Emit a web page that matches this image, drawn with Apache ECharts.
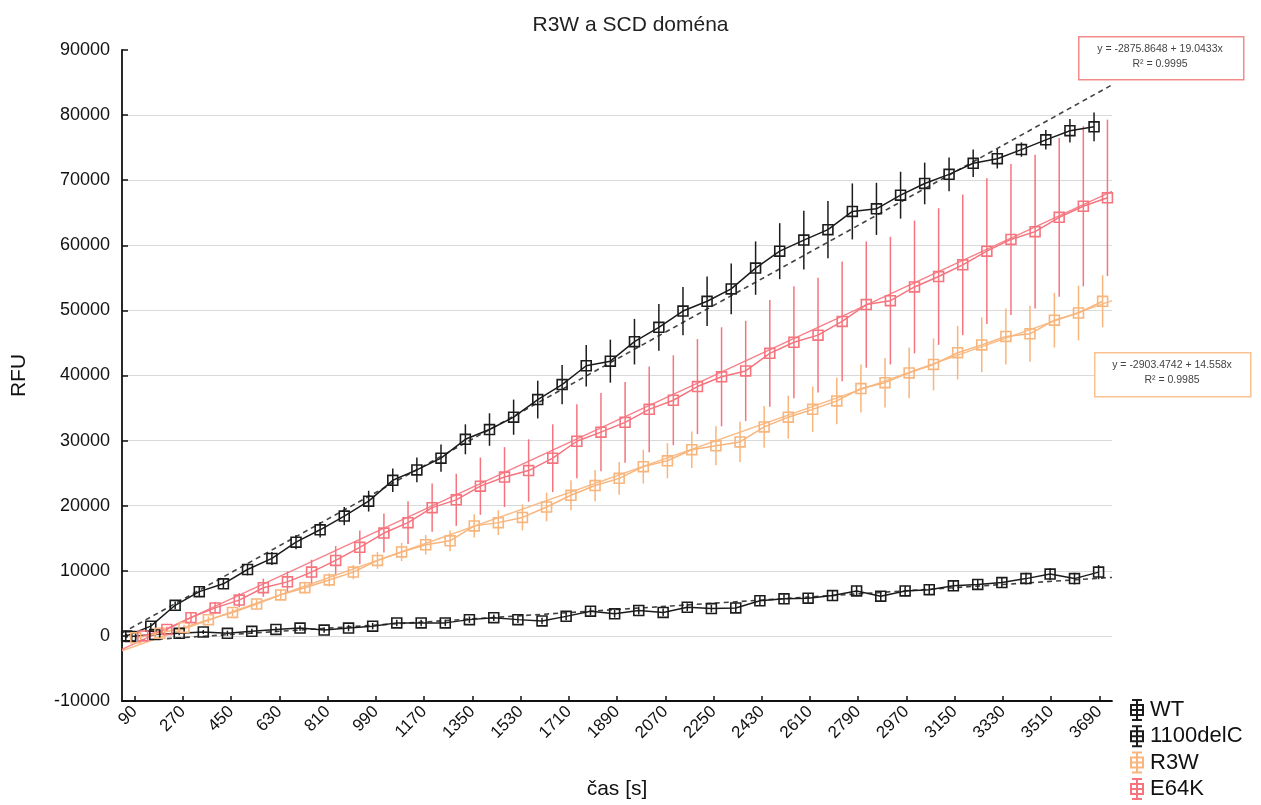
<!DOCTYPE html>
<html>
<head>
<meta charset="utf-8">
<script src="https://cdn.jsdelivr.net/npm/echarts@6/dist/echarts.min.js"></script>
<style>
  html, body { margin: 0; padding: 0; background: #fff; }
  #chart { width: 1261px; height: 805px; }
</style>
</head>
<body>
<div id="chart"></div>
<script>
// Read times (s) of each sample group
const timeWT = [60,150,241,331,421,511,602,692,782,872,963,1053,1143,1233,1324,1414,1504,1594,1685,1775,1865,1955,2046,2136,2226,2316,2407,2497,2587,2677,2768,2858,2948,3038,3129,3219,3309,3399,3490,3580,3670];
const time1100 = [75,165,256,346,436,527,617,707,797,888,978,1068,1159,1249,1339,1430,1520,1610,1700,1791,1881,1971,2062,2152,2242,2333,2423,2513,2603,2694,2784,2874,2965,3055,3145,3236,3326,3416,3506,3597,3687];
const timeR3W = [94,184,274,365,455,545,635,725,816,906,996,1086,1176,1267,1357,1447,1537,1627,1718,1808,1898,1988,2078,2169,2259,2349,2439,2529,2620,2710,2800,2890,2980,3071,3161,3251,3341,3431,3522,3612,3702];
const timeE64K = [120,210,300,390,480,570,660,750,840,930,1020,1110,1200,1290,1380,1470,1560,1650,1740,1830,1920,2010,2100,2190,2280,2370,2460,2550,2640,2730,2820,2910,3000,3090,3180,3270,3360,3450,3540,3630,3720];

// Mean fluorescence (RFU)
const rfuWT = [0,1500,4700,6800,8000,10200,11900,14400,16300,18400,20700,23900,25500,27300,30200,31700,33600,36300,38600,41500,42200,45200,47400,49900,51400,53300,56500,59100,60800,62400,65200,65600,67700,69500,70900,72600,73300,74700,76200,77600,78200];
const rfu1100 = [-100,200,400,600,400,700,1000,1200,900,1200,1500,2000,2000,2000,2500,2800,2500,2300,3000,3800,3400,3900,3600,4400,4200,4300,5400,5700,5800,6200,6900,6100,6900,7100,7700,7900,8200,8800,9500,8800,9800];
const rfuR3W = [-300,400,1300,2500,3600,4900,6300,7400,8600,9800,11600,12900,14000,14600,16900,17400,18200,19800,21600,23100,24200,26000,26900,28600,29200,29800,32100,33600,34800,36100,38000,38900,40400,41700,43500,44700,46000,46400,48500,49600,51400];
const rfuE64K = [0,1000,2800,4300,5500,7400,8300,9800,11600,13600,15800,17400,19700,20900,23000,24400,25400,27300,29900,31300,32800,34800,36200,38300,39800,40700,43400,45100,46200,48300,50900,51500,53600,55200,57000,59100,60900,62100,64300,66000,67300];

// Error bar half-lengths (RFU)
const errWT = [300,500,600,700,800,900,1000,1100,1200,1400,1600,1800,1900,2100,2300,2500,2700,2900,3000,3200,3300,3500,3600,3700,3800,3900,4100,4300,4500,4400,4300,4000,3600,3200,2600,2100,1500,1100,1500,1800,2200];
const err1100 = [300,300,300,300,400,400,400,400,400,500,500,500,500,500,500,500,500,500,600,600,600,600,600,600,600,700,700,700,700,700,800,800,800,800,800,800,800,900,900,900,1100];
const errR3W = [200,300,400,500,600,700,800,900,1000,1100,1300,1400,1500,1600,1800,1900,2000,2200,2300,2400,2500,2600,2700,2800,3000,3100,3200,3300,3500,3600,3700,3800,3900,4000,4100,4200,4300,4300,4200,4200,4000];
const errE64K = [200,400,700,900,1100,1400,1600,1900,2200,2600,3000,3300,3700,4000,4400,4600,4800,5200,5700,6000,6200,6600,6900,7300,7600,7700,8200,8600,8800,9200,9700,9800,10200,10500,10800,11200,11600,11800,12200,12300,12000];

// Linear fits reported for R3W and E64K
const fitE64K = { a: -2875.8648, b: 19.0433, r2: '0.9995' };
const fitR3W = { a: -2903.4742, b: 14.558, r2: '0.9985' };

const xTicks = [90,270,450,630,810,990,1170,1350,1530,1710,1890,2070,2250,2430,2610,2790,2970,3150,3330,3510,3690];
const X_MIN = 42.6, X_MAX = 3737;

const FONT = '"Liberation Sans", Arial, sans-serif';
const C_BLACK = '#1c1c1c';
const C_R3W = '#f8b57c';
const C_E64K = '#f5747e';

function zip(xs, ys) { return xs.map((x, i) => [x, ys[i]]); }
function zip3(xs, ys, es) { return xs.map((x, i) => [x, ys[i], es[i]]); }

// ordinary least squares line over the plotted range
function lsqLine(xs, ys) {
  const n = xs.length;
  let sx = 0, sy = 0, sxx = 0, sxy = 0;
  for (let i = 0; i < n; i++) { sx += xs[i]; sy += ys[i]; sxx += xs[i] * xs[i]; sxy += xs[i] * ys[i]; }
  const b = (n * sxy - sx * sy) / (n * sxx - sx * sx);
  const a = (sy - b * sx) / n;
  return [[X_MIN, a + b * X_MIN], [X_MAX, a + b * X_MAX]];
}
function eqLine(f) { return [[X_MIN, f.a + f.b * X_MIN], [X_MAX, f.a + f.b * X_MAX]]; }

// hollow square marker (outer square minus inner square)
const SQUARE = 'path://M0 0H10V10H0Z M1.4 1.4V8.6H8.6V1.4Z';
// legend glyph: capped error bar over a hollow square with a crossing line
const LEGEND_ICON = 'path://M3 0H13V2H3Z M3 20H13V22H3Z M7 0H9V22H7Z M1 5H15V17H1Z M3 7V15H13V7Z M1 10H15V12H1Z';

function errorSeries(id, data, color) {
  return {
    id: id,
    type: 'custom',
    data: data,
    z: 2,
    silent: true,
    itemStyle: { color: color },
    renderItem: function (params, api) {
      const x = api.value(0), y = api.value(1), e = api.value(2);
      const p1 = api.coord([x, y - e]);
      const p2 = api.coord([x, y + e]);
      return {
        type: 'line',
        shape: { x1: p1[0], y1: p1[1], x2: p2[0], y2: p2[1] },
        style: { stroke: color, lineWidth: 1.5 }
      };
    }
  };
}

function dataSeries(name, data, color) {
  return {
    name: name,
    type: 'line',
    data: data,
    z: 4,
    symbol: SQUARE,
    symbolSize: 11.5,
    itemStyle: { color: color },
    lineStyle: { color: color, width: 1.5 },
    emphasis: { disabled: true }
  };
}

function fitSeries(id, data, color, dashed) {
  return {
    id: id,
    type: 'line',
    data: data,
    z: 3,
    symbol: 'none',
    silent: true,
    lineStyle: { color: color, width: dashed ? 1.6 : 1.5, type: dashed ? [5, 4] : 'solid', opacity: dashed ? 0.85 : 0.9 },
    emphasis: { disabled: true }
  };
}

const gridColors = [];
for (let i = 0; i < 10; i++) gridColors.push('#d9d9d9');
gridColors.push('rgba(0,0,0,0)');

const chart = echarts.init(document.getElementById('chart'), null, { renderer: 'canvas' });

chart.setOption({
  backgroundColor: '#fff',
  animation: false,
  title: {
    text: 'R3W a SCD doména',
    left: 'center',
    top: 10,
    textStyle: { fontFamily: FONT, fontSize: 21, fontWeight: 'normal', color: '#222' }
  },
  grid: { left: 122, right: 149, top: 50, bottom: 90 },
  legend: {
    orient: 'vertical',
    left: 1130,
    top: 699,
    padding: 0,
    itemWidth: 16,
    itemHeight: 22,
    itemGap: 4.3,
    selectedMode: false,
    textStyle: { fontFamily: FONT, fontSize: 22, color: '#111' },
    data: [
      { name: 'WT', icon: LEGEND_ICON },
      { name: '1100delC', icon: LEGEND_ICON },
      { name: 'R3W', icon: LEGEND_ICON },
      { name: 'E64K', icon: LEGEND_ICON }
    ]
  },
  xAxis: {
    type: 'value',
    min: X_MIN,
    max: X_MAX,
    name: 'čas [s]',
    nameLocation: 'middle',
    nameGap: 78,
    nameTextStyle: { fontFamily: FONT, fontSize: 21, color: '#111' },
    axisLine: { onZero: false, lineStyle: { color: '#111', width: 1.8 } },
    axisTick: { inside: true, length: 5, customValues: xTicks, lineStyle: { color: '#111', width: 1.5 } },
    axisLabel: {
      customValues: xTicks,
      rotate: 45,
      margin: 8,
      fontFamily: FONT,
      fontSize: 17,
      color: '#111',
      formatter: function (v) { return String(v); }
    },
    splitLine: { show: false }
  },
  yAxis: {
    type: 'value',
    min: -10000,
    max: 90000,
    interval: 10000,
    name: 'RFU',
    nameLocation: 'middle',
    nameGap: 92,
    nameRotate: 90,
    nameTextStyle: { fontFamily: FONT, fontSize: 21, color: '#111' },
    axisLine: { show: true, onZero: false, lineStyle: { color: '#111', width: 1.8 } },
    axisTick: { show: true, inside: true, length: 6, lineStyle: { color: '#111', width: 1.5 } },
    axisLabel: { margin: 12, fontFamily: FONT, fontSize: 18, color: '#111', formatter: function (v) { return String(v); } },
    splitLine: { show: true, lineStyle: { color: gridColors, width: 1.2 } }
  },
  graphic: [
    {
      type: 'rect', left: 1078, top: 36, z: 10,
      shape: { width: 165, height: 43 },
      style: { fill: '#fff', stroke: '#f28a8a', lineWidth: 1.5 }
    },
    {
      type: 'text', x: 1160, y: 44, z: 11,
      style: { text: 'y = ' + fitE64K.a.toFixed(4) + ' + ' + fitE64K.b + 'x', fill: '#444', font: '10.5px ' + FONT, textAlign: 'center' }
    },
    {
      type: 'text', x: 1160, y: 59, z: 11,
      style: { text: 'R² = ' + fitE64K.r2, fill: '#444', font: '10.5px ' + FONT, textAlign: 'center' }
    },
    {
      type: 'rect', left: 1094, top: 352, z: 10,
      shape: { width: 156, height: 44 },
      style: { fill: '#fff', stroke: '#f9c28f', lineWidth: 1.5 }
    },
    {
      type: 'text', x: 1172, y: 360, z: 11,
      style: { text: 'y = ' + fitR3W.a.toFixed(4) + ' + ' + fitR3W.b + 'x', fill: '#444', font: '10.5px ' + FONT, textAlign: 'center' }
    },
    {
      type: 'text', x: 1172, y: 375, z: 11,
      style: { text: 'R² = ' + fitR3W.r2, fill: '#444', font: '10.5px ' + FONT, textAlign: 'center' }
    }
  ],
  series: [
    fitSeries('fitWT', lsqLine(timeWT, rfuWT), '#222', true),
    fitSeries('fit1100', lsqLine(time1100, rfu1100), '#222', true),
    fitSeries('fitR3W', eqLine(fitR3W), C_R3W, false),
    fitSeries('fitE64K', eqLine(fitE64K), C_E64K, false),
    errorSeries('errWT', zip3(timeWT, rfuWT, errWT), C_BLACK),
    errorSeries('err1100', zip3(time1100, rfu1100, err1100), C_BLACK),
    errorSeries('errR3W', zip3(timeR3W, rfuR3W, errR3W), C_R3W),
    errorSeries('errE64K', zip3(timeE64K, rfuE64K, errE64K), C_E64K),
    dataSeries('WT', zip(timeWT, rfuWT), C_BLACK),
    dataSeries('1100delC', zip(time1100, rfu1100), C_BLACK),
    dataSeries('R3W', zip(timeR3W, rfuR3W), C_R3W),
    dataSeries('E64K', zip(timeE64K, rfuE64K), C_E64K)
  ]
});
</script>
</body>
</html>
